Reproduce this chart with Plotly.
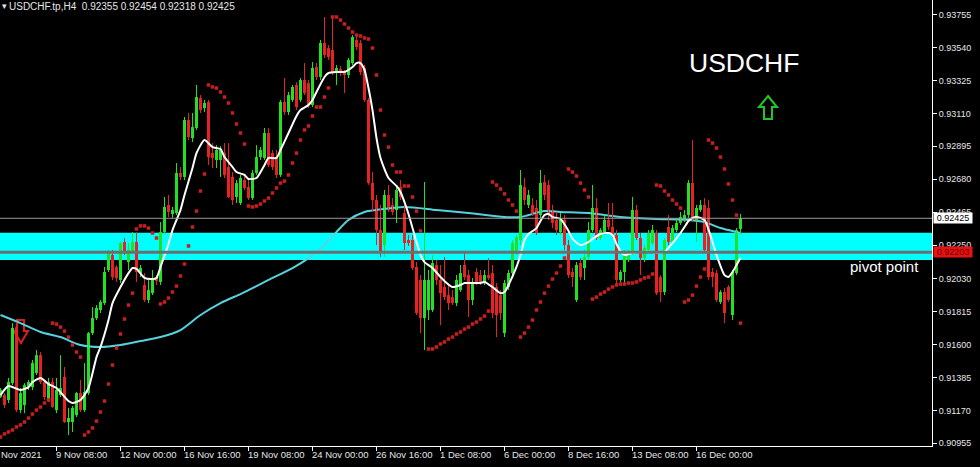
import datetime as dt
import plotly.graph_objects as go

# ---------------- data (USDCHF H4) ----------------
opens = [.91257,.91270,.91238,.91348,.91714,.91172,.91205,.91329,.91322,.91414,
 .91531,.91355,.91238,.91355,.91172,.91270,.91388,.91094,.91094,.91139,
 .91283,.91172,.91283,.91675,.91773,.91826,.91871,.92087,.92185,.92107,
 .92022,.92270,.92139,.92205,.92270,.92067,.91989,.91891,.91936,.92041,
 .92009,.92335,.92512,.92453,.92459,.92721,.92695,.93067,.92949,.93015,
 .93211,.93145,.93185,.92851,.92806,.92806,.92851,.92760,.92695,.92564,
 .92525,.92675,.92629,.92557,.92721,.92825,.92819,.92982,.92851,.92825,
 .92708,.93185,.93119,.93198,.93296,.93198,.93328,.93308,.93165,.93413,
 .93348,.93570,.93537,.93524,.93374,.93400,.93381,.93361,.93439,.93590,
 .93570,.93407,.93198,.92656,.92544,.92348,.92250,.92577,.92512,.92479,
 .92629,.92459,.92283,.92283,.92107,.92022,.91773,.91826,.91826,.92120,
 .92022,.91976,.91923,.91910,.91871,.91956,.92120,.92054,.91891,.92074,
 .92054,.92002,.92054,.92067,.91976,.91923,.91675,.91976,.92067,.92198,
 .92283,.92629,.92512,.92512,.92492,.92446,.92662,.92642,.92479,.92414,
 .92335,.92414,.92250,.92074,.91891,.92133,.92100,.92172,.92348,.92492,
 .92296,.92335,.92414,.92368,.92316,.92022,.92074,.92152,.92198,.92479,
 .92296,.92165,.92218,.92263,.92329,.92041,.91943,.92368,.92270,.92348,
 .92394,.92414,.92446,.92656,.92414,.92479,.92512,.92492,.92074,.92067,
 .91878,.91943,.91976,.91793,.92067,.92355]

highs = [.91316,.91283,.91382,.91740,.91747,.91316,.91348,.91368,.91499,.91564,
 .91551,.91368,.91382,.91382,.91382,.91531,.91453,.91186,.91199,.91290,
 .91368,.91479,.91682,.91845,.91858,.91891,.92107,.92218,.92218,.92120,
 .92270,.92296,.92263,.92335,.92335,.92120,.92067,.92022,.92087,.92054,
 .92400,.92564,.92577,.92499,.92786,.92760,.93087,.93113,.93113,.93296,
 .93230,.93198,.93198,.92916,.92903,.92897,.92916,.92916,.92727,.92675,
 .92708,.92708,.92675,.92740,.92903,.92890,.93015,.93015,.92871,.92871,
 .93198,.93341,.93250,.93296,.93315,.93341,.93439,.93328,.93446,.93439,
 .93590,.93740,.93557,.93733,.93426,.93420,.93394,.93472,.93622,.93616,
 .93590,.93426,.93211,.92727,.92577,.92512,.92610,.92643,.92557,.92629,
 .92675,.92512,.92316,.92316,.92139,.92054,.92662,.92087,.92185,.92152,
 .92120,.92172,.91989,.91956,.92054,.92120,.92198,.92087,.92035,.92100,
 .92087,.92087,.92165,.92120,.92002,.91956,.92022,.92087,.92283,.92316,
 .92740,.92688,.92610,.92557,.92544,.92740,.92708,.92675,.92512,.92466,
 .92459,.92446,.92283,.92100,.92139,.92165,.92218,.92400,.92642,.92557,
 .92361,.92446,.92525,.92525,.92348,.92087,.92218,.92218,.92564,.92512,
 .92329,.92250,.92348,.92381,.92348,.92054,.92296,.92446,.92381,.92427,
 .92466,.92479,.92675,.92936,.92512,.92544,.92557,.92544,.92100,.92087,
 .91956,.91969,.91989,.92087,.92361,.92454]

lows = [.91251,.91186,.91218,.91335,.91159,.91152,.91152,.91303,.91303,.91401,
 .91342,.91238,.91225,.91186,.91152,.91257,.91087,.91009,.91029,.91126,
 .91159,.91159,.91270,.91662,.91760,.91806,.91858,.92074,.92022,.92009,
 .92002,.92185,.92087,.92192,.92009,.92041,.91878,.91871,.91923,.91989,
 .91989,.92322,.92433,.92427,.92446,.92675,.92675,.92936,.92923,.93002,
 .93113,.93119,.92773,.92753,.92753,.92695,.92688,.92557,.92512,.92525,
 .92512,.92610,.92544,.92544,.92708,.92806,.92806,.92760,.92740,.92688,
 .92695,.93100,.93100,.93185,.93132,.93185,.93230,.93145,.93152,.93328,
 .93328,.93472,.93459,.93361,.93296,.93355,.93243,.93341,.93426,.93524,
 .93361,.93185,.92643,.92466,.92250,.92172,.92172,.92466,.92446,.92394,
 .92544,.92218,.92244,.92087,.91793,.91675,.91564,.91760,.91813,.91989,
 .91727,.91891,.91826,.91858,.91851,.91943,.92022,.91780,.91858,.91989,
 .91989,.91989,.92022,.91773,.91649,.91760,.91649,.91956,.92048,.92185,
 .92250,.92512,.92492,.92440,.92316,.92427,.92544,.92414,.92361,.92316,
 .92316,.92218,.92035,.91976,.91878,.92022,.92022,.92152,.92335,.92283,
 .92283,.92316,.92348,.92296,.91989,.92009,.92002,.92139,.92185,.92283,
 .92054,.92139,.92205,.92250,.91923,.91878,.91923,.92250,.92250,.92335,
 .92381,.92400,.92427,.92400,.92270,.92466,.92205,.92022,.91976,.91878,
 .91865,.91740,.91878,.91760,.92054,.92318]

closes = [.91303,.91205,.91355,.91708,.91172,.91283,.91335,.91355,.91479,.91531,
 .91355,.91257,.91355,.91192,.91303,.91316,.91094,.91120,.91186,.91283,
 .91172,.91290,.91675,.91773,.91839,.91878,.92074,.92198,.92041,.92035,
 .92263,.92198,.92218,.92270,.92074,.92100,.91891,.91956,.92035,.92015,
 .92335,.92499,.92466,.92479,.92721,.92695,.93067,.92956,.93021,.93217,
 .93132,.93178,.92825,.92819,.92871,.92871,.92708,.92564,.92544,.92655,
 .92688,.92623,.92557,.92721,.92825,.92871,.92982,.92773,.92760,.92708,
 .93185,.93119,.93230,.93283,.93152,.93328,.93243,.93165,.93407,.93348,
 .93570,.93492,.93479,.93381,.93407,.93374,.93361,.93459,.93609,.93544,
 .93381,.93198,.92656,.92544,.92348,.92198,.92577,.92479,.92466,.92610,
 .92564,.92263,.92263,.92100,.91806,.91773,.92022,.92022,.92133,.92022,
 .91936,.91910,.91871,.91871,.92022,.92067,.92041,.91891,.92002,.92009,
 .92009,.92054,.92035,.91806,.91793,.91806,.92002,.92067,.92263,.92303,
 .92642,.92544,.92577,.92459,.92329,.92656,.92577,.92446,.92394,.92348,
 .92414,.92250,.92054,.92041,.92120,.92041,.92172,.92348,.92492,.92296,
 .92348,.92414,.92368,.92316,.92022,.92074,.92185,.92198,.92479,.92296,
 .92165,.92231,.92329,.92348,.91936,.91943,.92283,.92270,.92361,.92394,
 .92433,.92446,.92656,.92414,.92492,.92512,.92218,.92041,.92041,.91891,
 .91943,.91806,.91891,.92074,.92348,.92425]

# Parabolic SAR (one value per bar, None where no dot was read)
psar = [.90996,.91016,.91029,.91042,.91062,.91075,.91094,.91120,.91146,.91172,
 .91192,.91218,.91238,.91740,.91734,.91714,.91688,.91649,.91597,.91551,
 .91518,.91009,.91029,.91055,.91100,.91159,.91231,.91342,.91466,.91577,
 .91669,.91767,.91858,.91936,.92355,.92375,.92375,.92361,.92329,.92296,
 .91865,.91878,.91904,.91943,.91982,.92048,.92126,.92244,.92368,.92472,
 .92603,.92714,.93296,.93283,.93276,.93250,.93217,.93178,.93113,.93041,
 .92982,.92910,.92505,.92499,.92505,.92518,.92538,.92557,.92590,.92623,
 .92655,.92668,.92708,.92786,.92851,.92936,.93002,.93028,.93093,.93152,
 .93152,.93217,.93276,.93740,.93740,.93720,.93694,.93668,.93642,.93622,
 .93616,.93603,.93596,.93537,.93361,.93132,.92969,.92890,.92773,.92727,
 .92727,.92636,.92636,.92564,.92472,.92342,None,.91571,.91571,.91584,
 .91604,.91617,.91636,.91649,.91669,.91682,.91701,.91714,.91734,.91747,
 .91767,.91786,.91819,.92662,.92642,.92616,.92584,.92544,.92512,.92472,
 .91649,.91675,.91714,.91760,.91826,.91878,.91936,.91982,.92028,.92067,
 .92113,.92165,.92747,.92727,.92701,.92655,.92610,.92564,.91897,.91910,
 .91930,.91943,.91962,.91976,.91989,.91995,.91995,.92002,.92002,.92009,
 .92022,.92035,.92041,.92061,.92642,.92636,.92603,.92577,.92544,.92518,
 .92492,.91878,.91891,.91923,.91982,.92041,.92094,.92936,.92916,.92884,
 .92825,.92747,.92649,.92544,.92446,.91740]

# fast moving average (white), read at these bars
fast_ma_bar = [0,2,5,7,8,10,12,14,17,18,20,22,24,25,27,28,30,32,33,34,36,38,39,40,42,43,45,46,48,49,
 51,53,55,56,58,59,61,62,64,66,67,69,70,72,74,75,77,78,79,81,82,84,86,88,89,90,91,92,93,94,
 95,97,99,100,101,102,104,105,106,108,110,111,113,115,116,118,120,121,123,125,126,127,129,130,131,132,134,135,136,137,
 138,140,142,143,145,147,148,150,152,153,154,155,156,158,160,163,165,166,168,170,171,172,173,174,176,178,179,181,182,183,
 184,185]
fast_ma = [.91270,.91329,.91303,.91322,.91355,.91382,.91342,.91316,.91231,.91218,.91238,.91316,.91518,.91584,.91760,.91871,.91976,.92067,.92100,.92094,
 .92035,.92028,.92035,.92107,.92257,.92348,.92479,.92577,.92753,.92851,.92936,.92890,.92877,.92825,.92760,.92727,.92708,.92682,.92688,.92773,
 .92819,.92819,.92871,.92982,.93093,.93132,.93165,.93198,.93250,.93348,.93374,.93381,.93381,.93413,.93439,.93439,.93394,.93276,.93132,.92949,
 .92819,.92688,.92636,.92597,.92531,.92453,.92270,.92185,.92139,.92100,.92041,.92015,.91976,.91989,.92002,.92002,.92002,.92009,.91976,.91936,
 .91943,.91989,.92107,.92185,.92283,.92322,.92361,.92407,.92446,.92453,.92433,.92420,.92342,.92290,.92250,.92270,.92290,.92322,.92329,.92316,
 .92257,.92211,.92185,.92198,.92205,.92205,.92198,.92205,.92263,.92329,.92368,.92407,.92427,.92433,.92414,.92270,.92185,.92054,.92041,.92074,
 .92120,.92165]

# slow moving average (cyan), read at these bars
slow_ma_bar = [0,5,10,15,20,25,30,35,40,45,50,55,60,62,67,73,77,81,84,87,91,94,101,109,117,126,130,136,140,147,155,164,172,176,180,184,185]
slow_ma = [.91793,.91740,.91682,.91649,.91597,.91584,.91597,.91623,.91649,.91695,.91793,.91871,.91930,.91956,.92022,.92100,.92165,.92250,.92335,.92414,
 .92466,.92479,.92499,.92479,.92459,.92433,.92433,.92472,.92466,.92459,.92433,.92420,.92414,.92400,.92361,.92335,.92329]

pivot_zone = [0.92152, 0.92331]
pivot_level = 0.92203
symbol_name = "USDCHF"
header_name = "USDCHF.tp,H4"
ytick_text = ["0.93755","0.93540","0.93325","0.93110","0.92895","0.92680","0.92465",
              "0.92250","0.92030","0.91815","0.91600","0.91385","0.91170","0.90955"]
first_label = "4 Nov 2021"

# ---------------- time axis (H4 bars, weekends skipped) ----------------
n = len(opens)
bar_times = []
t = dt.datetime(2021, 11, 5, 0)
while len(bar_times) < n:
    if t.weekday() < 5:
        bar_times.append(t)
    t += dt.timedelta(hours=4)
idx = list(range(n))
tick_idx = list(range(14, n, 16))
tick_txt = [f"{bar_times[i].day} {bar_times[i]:%b %H:%M}" for i in tick_idx]

# ---------------- styling ----------------
W, H = 980, 467
PW, PH = 932, 446
FONT = "Liberation Sans, Arial, sans-serif"
GREEN = "#22E022"
RED = "#E82222"
TXT = "#E6E6E6"
Y_TOP, Y_BOT = 0.938510, 0.909373

fig = go.Figure()

def body(ids):
    base = [min(opens[i], closes[i]) for i in ids]
    hgt = [max(abs(closes[i] - opens[i]), 0.00007) for i in ids]
    return base, hgt

def wick(ids):
    xs, ys = [], []
    for i in ids:
        xs += [i, i, None]
        ys += [lows[i], highs[i], None]
    return xs, ys

up = [i for i in idx if closes[i] >= opens[i]]
dn = [i for i in idx if closes[i] < opens[i]]

# slow MA below candles
fig.add_trace(go.Scatter(x=slow_ma_bar, y=slow_ma, mode="lines",
                         line=dict(color="#55D2DE", width=2, shape="spline", smoothing=0.8),
                         hoverinfo="skip"))

for ids, col in ((up, GREEN), (dn, RED)):
    wx, wy = wick(ids)
    fig.add_trace(go.Scatter(x=wx, y=wy, mode="lines", line=dict(color=col, width=1),
                             hoverinfo="skip"))
    b, h = body(ids)
    fig.add_trace(go.Bar(x=ids, y=h, base=b, width=0.75,
                         marker=dict(color=col, line=dict(width=0)), hoverinfo="skip"))

fig.add_trace(go.Scatter(x=fast_ma_bar, y=fast_ma, mode="lines",
                         line=dict(color="white", width=2, shape="spline", smoothing=0.6),
                         hoverinfo="skip"))
fig.add_trace(go.Scatter(x=idx, y=psar, mode="markers",
                         marker=dict(symbol="square", size=3.5, color="#C42020", line=dict(width=0)),
                         hoverinfo="skip"))

# ---------------- shapes ----------------
def px_path(points):
    s = ""
    for j, (x, y) in enumerate(points):
        s += ("M" if j == 0 else "L") + f"{x / PW:.5f},{1 - y / PH:.5f} "
    return s + "Z"

shapes = [
    dict(type="rect", xref="paper", yref="y", x0=0, x1=1, y0=pivot_zone[0], y1=pivot_zone[1],
         fillcolor="#00FFFF", line=dict(width=0), layer="below"),
    dict(type="line", xref="paper", yref="y", x0=0, x1=1, y0=pivot_level, y1=pivot_level,
         line=dict(color="#6E6E6E", width=3), layer="above"),
    dict(type="line", xref="paper", yref="y", x0=0, x1=1, y0=closes[-1], y1=closes[-1],
         line=dict(color="#9A9A9A", width=1), layer="above"),
    dict(type="path", xref="paper", yref="paper",
         path=px_path([(768, 96), (777, 107), (772, 107), (772, 119), (764, 119), (764, 107), (759, 107)]),
         line=dict(color="#22C822", width=2), fillcolor="rgba(0,0,0,0)", layer="above"),
    dict(type="path", xref="paper", yref="paper",
         path=px_path([(17, 320), (24, 320), (24, 331), (28, 331), (21, 343), (14, 331), (17, 331)]),
         line=dict(color="#D42020", width=2), fillcolor="rgba(0,0,0,0)", layer="below"),
]

# ---------------- annotations ----------------
ann = []
ann.append(dict(xref="paper", yref="paper", x=0.0, y=1 - 6 / PH, xanchor="left", yanchor="middle",
                text="\u25BE", showarrow=False, font=dict(family=FONT, size=9, color=TXT)))
ann.append(dict(xref="paper", yref="paper", x=6.5 / PW, y=1 - 6 / PH, xanchor="left", yanchor="middle",
                text=f"{header_name}\u00a0 {opens[-1]:.5f} {highs[-1]:.5f} {lows[-1]:.5f} {closes[-1]:.5f}",
                showarrow=False, font=dict(family=FONT, size=10, color=TXT)))
ann.append(dict(xref="paper", yref="paper", x=744 / PW, y=1 - 63 / PH, xanchor="center", yanchor="middle",
                text=symbol_name, showarrow=False, font=dict(family=FONT, size=26.5, color="white")))
ann.append(dict(xref="paper", yref="paper", x=884.5 / PW, y=1 - 266 / PH, xanchor="center", yanchor="middle",
                text="pivot point", showarrow=False, font=dict(family=FONT, size=15, color="white")))
# price labels on the axis
ann.append(dict(xref="paper", yref="y", x=1, y=closes[-1], xanchor="left", yanchor="middle", xshift=1,
                text=f"{closes[-1]:.5f}", showarrow=False, bgcolor="white", width=38, height=10,
                borderpad=0, font=dict(family=FONT, size=9, color="black")))
ann.append(dict(xref="paper", yref="y", x=1, y=pivot_level, xanchor="left", yanchor="middle", xshift=1,
                text=f"{pivot_level:.5f}", showarrow=False, bgcolor="#E81212", width=38, height=10,
                borderpad=0, font=dict(family=FONT, size=9, color="#6A0000")))
# date labels (left aligned at tick, MT4 style)
for i, txt in zip(tick_idx, tick_txt):
    ann.append(dict(xref="x", yref="paper", x=i, y=0, xanchor="left", yanchor="top", xshift=-3, yshift=-1,
                    text=txt, showarrow=False, font=dict(family=FONT, size=9.5, color=TXT)))
ann.append(dict(xref="paper", yref="paper", x=-9.5 / PW, y=0, xanchor="left", yanchor="top", yshift=-1,
                text=first_label, showarrow=False, font=dict(family=FONT, size=9.5, color=TXT)))

fig.update_layout(
    width=W, height=H, autosize=False,
    margin=dict(l=0, r=W - PW, t=0, b=H - PH, pad=0),
    paper_bgcolor="black", plot_bgcolor="black",
    showlegend=False, barmode="overlay",
    font=dict(family=FONT, color=TXT),
    xaxis=dict(range=[-0.125, PW / 4 - 0.125], showgrid=False, zeroline=False,
               showline=True, linecolor="white", linewidth=1,
               ticks="outside", ticklen=4, tickcolor="white", tickwidth=1,
               tickvals=tick_idx, showticklabels=False, fixedrange=True),
    yaxis=dict(side="right", range=[Y_BOT, Y_TOP], showgrid=False, zeroline=False,
               showline=True, linecolor="white", linewidth=1,
               ticks="outside", ticklen=4, tickcolor="white", tickwidth=1,
               tickvals=[float(v) for v in ytick_text], ticktext=ytick_text,
               tickfont=dict(family=FONT, size=9, color=TXT), fixedrange=True),
    shapes=shapes, annotations=ann,
)

fig.write_html("out.html", config={"displayModeBar": False, "staticPlot": True},
               post_script="document.body.style.margin='0';document.body.style.background='black';"
                           "document.body.style.overflow='hidden';")
